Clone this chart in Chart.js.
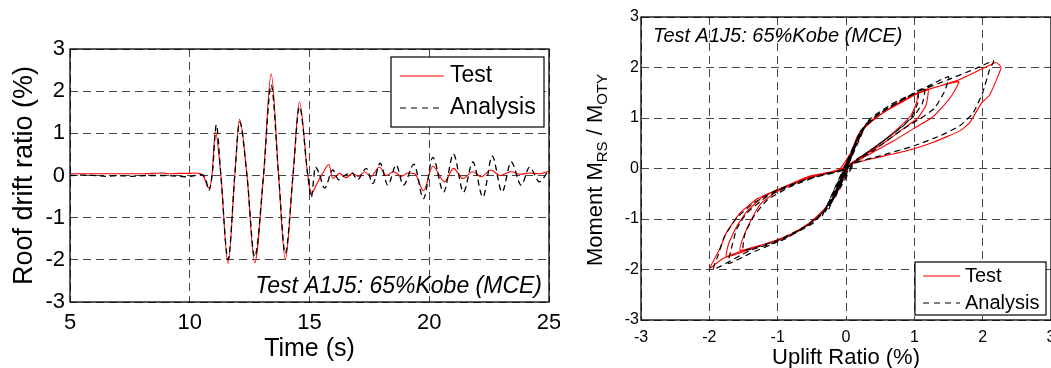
<!DOCTYPE html>
<html>
<head>
<meta charset="utf-8">
<script src="https://cdn.jsdelivr.net/npm/chart.js@4.4.1/dist/chart.umd.min.js"></script>
<style>
  html, body { margin: 0; padding: 0; background: #fff; }
  #wrap { position: relative; width: 1051px; height: 368px; overflow: hidden; }
  canvas { position: absolute; top: 0; }
  #drift { left: 0; }
  #uplift { left: 560px; }
</style>
</head>
<body>
<div id="wrap">
  <canvas id="drift" width="560" height="368"></canvas>
  <canvas id="uplift" width="491" height="368"></canvas>
</div>
<script>
// ---- roof drift time history (left) ----
const testTime = [5.0, 6.0, 7.0, 8.0, 8.9, 9.1, 9.6, 10.0, 10.2, 10.45, 10.6, 10.8, 10.93, 11.07, 11.3, 11.6, 11.88,
  12.08, 12.39, 12.71, 13.08, 13.4, 13.71, 13.99, 14.31, 14.58, 14.93, 15.08, 15.3, 15.55, 15.81, 15.97, 16.25,
  16.53, 16.8, 17.05, 17.3, 17.55, 17.92, 18.2, 18.5, 18.85, 19.1, 19.4, 19.76, 20.15, 20.64, 21.01, 21.4, 21.82,
  22.17, 22.58, 22.95, 23.42, 23.8, 24.2, 24.6, 25.0];
const testDrift = [0.04, 0.04, 0.04, 0.04, 0.06, 0.04, 0.05, 0.05, 0.06, 0.04, -0.05, -0.3, 0.0, 1.04, 0.0, -2.09, 0.0,
  1.33, 0.0, -2.07, 0.0, 2.41, 0.0, -1.99, 0.0, 1.75, 0.0, -0.43, -0.2, 0.05, 0.26, -0.07, 0.05,
  -0.05, 0.05, -0.02, 0.09, -0.03, 0.2, 0.0, 0.09, -0.02, 0.06, 0.04, -0.36, 0.22, -0.15, 0.17, -0.07, 0.09,
  -0.03, 0.13, 0.0, 0.09, 0.03, 0.06, 0.04, 0.1];

const analysisTime = [5.0, 5.8, 6.5, 7.0, 7.6, 8.2, 9.0, 9.6, 9.9, 10.2, 10.5, 10.65, 10.8, 10.95, 11.11, 11.3, 11.6,
  11.88, 12.08, 12.39, 12.71, 13.08, 13.4, 13.71, 13.99, 14.31, 14.58, 14.93, 15.07, 15.25, 15.4, 15.63, 15.97,
  16.22, 16.45, 16.78, 17.0, 17.37, 17.64, 17.95, 18.27, 18.62, 18.92, 19.36, 19.76, 20.15, 20.6, 21.01, 21.43,
  21.82, 22.24, 22.63, 23.04, 23.42, 23.84, 24.19, 24.6, 24.95];
const analysisDrift = [0.0, 0.01, -0.02, 0.0, -0.02, 0.0, 0.0, -0.02, -0.03, 0.0, 0.02, -0.05, -0.35, 0.1, 1.2, 0.0, -2.0,
  0.0, 1.27, 0.0, -1.93, 0.0, 2.15, 0.0, -1.85, 0.0, 1.63, 0.0, -0.52, 0.2, 0.05, -0.3, 0.13,
  -0.1, 0.0, 0.06, -0.1, 0.17, -0.19, 0.29, -0.23, 0.25, -0.23, 0.27, -0.55, 0.43, -0.39, 0.51, -0.39,
  0.32, -0.51, 0.46, -0.39, 0.32, -0.23, 0.2, -0.15, 0.09];

// ---- moment vs uplift hysteresis (right) ----
const testUplift = [0, 0.05, -0.05, 0.08, -0.1, 0.12, 0,
  0.16, 0.3, 0.5, 0.75, 1.05, 1.03, 0.95, 0.75, 0.5, 0.25, 0.05,
  -0.1, -0.3, -0.55, -0.9, -1.25, -1.55, -1.5, -1.4, -1.25, -1.0, -0.5, -0.05,
  0.1, 0.2, 0.45, 0.8, 1.2, 1.17, 1.05, 0.85, 0.6, 0.3, 0.05,
  -0.12, -0.35, -0.6, -1.0, -1.45, -1.8, -1.99, -1.85, -1.75, -1.55, -1.3, -1.16, -0.8, -0.53, -0.1,
  0.1, 0.25, 0.5, 0.85, 1.2, 1.62, 2.06, 2.2, 2.27, 2.2, 2.1, 1.99, 1.81, 1.67, 1.28, 0.89, 0.4, 0.11, 0,
  -0.15, -0.4, -0.8, -1.3, -1.75, -1.72, -1.6, -1.45, -1.2, -0.6, -0.05,
  0.12, 0.3, 0.7, 1.1, 1.65, 1.55, 1.4, 1.25, 1.0, 0.7, 0.3, 0.05,
  -0.2, -0.1, 0.15, -0.15, 0.1, -0.08, 0.05, 0];
const testMoment = [0.02, 0.2, -0.15, 0.3, -0.35, 0.45, 0.05,
  0.62, 0.88, 1.07, 1.28, 1.5, 1.3, 1.05, 0.78, 0.5, 0.25, 0.08,
  -0.38, -0.8, -1.12, -1.38, -1.52, -1.62, -1.35, -1.05, -0.7, -0.45, -0.17, -0.02,
  0.35, 0.7, 1.02, 1.3, 1.58, 1.25, 1.0, 0.8, 0.55, 0.28, 0.05,
  -0.45, -0.85, -1.15, -1.42, -1.6, -1.78, -1.97, -1.6, -1.27, -0.88, -0.6, -0.51, -0.3, -0.15, -0.02,
  0.38, 0.78, 1.06, 1.36, 1.56, 1.74, 2.02, 2.1, 2.0, 1.75, 1.45, 1.31, 0.91, 0.75, 0.52, 0.35, 0.2, 0.1, 0,
  -0.5, -0.95, -1.3, -1.55, -1.75, -1.5, -1.15, -0.85, -0.55, -0.2, 0.0,
  0.45, 0.85, 1.25, 1.52, 1.72, 1.45, 1.2, 1.0, 0.8, 0.55, 0.25, 0.05,
  -0.65, -0.3, 0.5, -0.55, 0.35, -0.3, 0.15, 0.03];

const analysisUplift = [0, 0.1, -0.12, 0.15, -0.15, 0.05,
  0.2, 0.4, 0.7, 1.05, 1.05, 0.95, 0.7, 0.4, 0.1,
  -0.15, -0.35, -0.6, -1.0, -1.5, -1.48, -1.35, -1.15, -0.8, -0.3, 0,
  0.15, 0.35, 0.75, 1.15, 1.12, 1.0, 0.8, 0.5, 0.15,
  -0.2, -0.45, -0.9, -1.4, -1.94, -1.88, -1.78, -1.6, -1.35, -1.0, -0.5, 0,
  0.15, 0.35, 0.7, 1.1, 1.5, 1.9, 2.16, 2.1, 2.0, 1.86, 1.67, 1.38, 1.0, 0.5, 0.1,
  -0.25, -0.5, -1.0, -1.4, -1.72, -1.68, -1.6, -1.45, -1.15, -0.6, 0,
  0.2, 0.5, 0.95, 1.5, 1.45, 1.3, 1.1, 0.8, 0.4, 0.05,
  -0.3, 0.3, -0.25, 0.25, -0.35, 0.2, -0.2, 0.1, 0];
const analysisMoment = [0, 0.35, -0.4, 0.5, -0.5, 0.15,
  0.72, 1.0, 1.27, 1.5, 1.3, 1.0, 0.7, 0.4, 0.12,
  -0.5, -0.88, -1.15, -1.42, -1.62, -1.3, -0.95, -0.62, -0.35, -0.1, 0,
  0.55, 0.95, 1.3, 1.6, 1.3, 1.05, 0.8, 0.5, 0.15,
  -0.65, -1.02, -1.4, -1.62, -2.0, -1.75, -1.35, -0.98, -0.68, -0.42, -0.18, 0,
  0.55, 0.98, 1.3, 1.55, 1.76, 1.98, 2.13, 1.95, 1.5, 1.1, 0.85, 0.65, 0.45, 0.25, 0.08,
  -0.75, -1.1, -1.45, -1.68, -1.88, -1.6, -1.2, -0.88, -0.55, -0.22, 0,
  0.7, 1.1, 1.45, 1.82, 1.55, 1.2, 1.0, 0.75, 0.35, 0.05,
  -0.85, 0.9, -0.8, 0.8, -0.95, 0.7, -0.6, 0.35, 0];

const axisTicks = [-3, -2, -1, 0, 1, 2, 3];
const timeTicks = [5, 10, 15, 20, 25];

const FONT = '"Liberation Sans", Arial, sans-serif';
const pts = (xs, ys) => xs.map((x, i) => ({ x: x, y: ys[i] }));

// frame, note text and legend box drawn over the plot
function overlay(cfg) {
  return {
    id: 'overlay',
    afterDraw(chart) {
      const { ctx, chartArea: a } = chart;
      ctx.save();
      ctx.setLineDash([]);
      ctx.strokeStyle = '#000';
      ctx.lineWidth = 1.3;
      ctx.strokeRect(a.left, a.top, a.right - a.left, a.bottom - a.top);

      // test label
      ctx.fillStyle = '#000';
      ctx.font = 'italic ' + cfg.note.size + 'px ' + FONT;
      ctx.textAlign = cfg.note.align;
      ctx.textBaseline = 'alphabetic';
      ctx.fillText('Test A1J5: 65%Kobe (MCE)', cfg.note.x, cfg.note.y);

      // legend
      const L = cfg.legend;
      ctx.fillStyle = '#fff';
      ctx.fillRect(L.x, L.y, L.w, L.h);
      ctx.lineWidth = 1.2;
      ctx.strokeStyle = '#000';
      ctx.strokeRect(L.x, L.y, L.w, L.h);
      const rows = [
        { text: 'Test', color: '#ff0000', dash: [], width: 1 },
        { text: 'Analysis', color: '#000', dash: [6, 5], width: 1.2 }
      ];
      ctx.font = L.size + 'px ' + FONT;
      ctx.textAlign = 'left';
      ctx.textBaseline = 'middle';
      rows.forEach((r, i) => {
        const yy = L.rowY[i];
        ctx.beginPath();
        ctx.setLineDash(r.dash);
        ctx.strokeStyle = r.color;
        ctx.lineWidth = r.width;
        ctx.moveTo(L.lineX0, yy);
        ctx.lineTo(L.lineX1, yy);
        ctx.stroke();
        ctx.setLineDash([]);
        ctx.fillStyle = '#000';
        ctx.fillText(r.text, L.textX, yy);
      });

      // y title with subscripts (right chart)
      if (cfg.yTitle) {
        const t = cfg.yTitle;
        ctx.translate(t.x, t.y);
        ctx.rotate(-Math.PI / 2);
        const big = t.size + 'px ' + FONT;
        const small = t.sub + 'px ' + FONT;
        const parts = [['Moment M', big, 0], ['RS', small, t.shift], [' / M', big, 0], ['OTY', small, t.shift]];
        let total = 0;
        parts.forEach(p => { ctx.font = p[1]; total += ctx.measureText(p[0]).width; });
        let xx = -total / 2;
        ctx.textAlign = 'left';
        ctx.textBaseline = 'alphabetic';
        ctx.fillStyle = '#000';
        parts.forEach(p => {
          ctx.font = p[1];
          ctx.fillText(p[0], xx, t.base + p[2]);
          xx += ctx.measureText(p[0]).width;
        });
      }
      ctx.restore();
    }
  };
}

function lineSet(label, data, color, dash, width, order, smooth) {
  return {
    label: label,
    data: data,
    showLine: true,
    borderColor: color,
    backgroundColor: color,
    borderDash: dash,
    borderWidth: width,
    pointRadius: 0,
    fill: false,
    order: order,
    cubicInterpolationMode: smooth ? 'monotone' : 'default',
    tension: smooth ? 0 : 0.15
  };
}

// no extra room for half-overhanging end labels; the plot box is set by layout padding
const fixX = h => s => { s.height = h; s.paddingLeft = 0; s.paddingRight = 0; };
const fixY = w => s => { s.width = w; s.paddingTop = 0; s.paddingBottom = 0; };

const gridStyle = { color: 'rgba(0,0,0,0.72)', lineWidth: 1, drawTicks: false };

new Chart(document.getElementById('drift'), {
  type: 'scatter',
  data: {
    datasets: [
      lineSet('Test', pts(testTime, testDrift), '#ff0000', [], 1.1, 2, true),
      lineSet('Analysis', pts(analysisTime, analysisDrift), '#000', [6, 4], 1.3, 1, true)
    ]
  },
  options: {
    responsive: false,
    animation: false,
    layout: { padding: { top: 49, right: 11, left: 0, bottom: 0 } },
    plugins: { legend: { display: false }, tooltip: { enabled: false } },
    scales: {
      x: {
        type: 'linear', min: 5, max: 25,
        afterFit: fixX(66),
        afterBuildTicks: s => { s.ticks = timeTicks.map(v => ({ value: v })); },
        ticks: { color: '#000', font: { family: FONT, size: 22 }, padding: 8, maxRotation: 0, autoSkip: false },
        grid: gridStyle,
        border: { display: false, dash: [8, 5] },
        title: { display: true, text: 'Time (s)', color: '#000', font: { family: FONT, size: 25 }, padding: { top: 0, bottom: 4 } }
      },
      y: {
        type: 'linear', min: -3, max: 3,
        afterFit: fixY(70),
        afterBuildTicks: s => { s.ticks = axisTicks.map(v => ({ value: v })); },
        ticks: { color: '#000', font: { family: FONT, size: 22 }, padding: 5, autoSkip: false },
        grid: gridStyle,
        border: { display: false, dash: [8, 5] },
        title: { display: true, text: 'Roof drift ratio (%)', color: '#000', font: { family: FONT, size: 27 }, padding: { top: 8, bottom: 0 } }
      }
    }
  },
  plugins: [overlay({
    note: { x: 542, y: 293, size: 23, align: 'right' },
    legend: { x: 391, y: 57, w: 153, h: 70, size: 23, rowY: [76, 108], lineX0: 400, lineX1: 444, textX: 450 }
  })]
});

new Chart(document.getElementById('uplift'), {
  type: 'scatter',
  data: {
    datasets: [
      lineSet('Test', pts(testUplift, testMoment), '#ff0000', [], 1.1, 2, false),
      lineSet('Analysis', pts(analysisUplift, analysisMoment), '#000', [6, 4], 1.2, 1, false)
    ]
  },
  options: {
    responsive: false,
    animation: false,
    layout: { padding: { top: 17, right: 0, left: 0, bottom: 0 } },
    plugins: { legend: { display: false }, tooltip: { enabled: false } },
    scales: {
      x: {
        type: 'linear', min: -3, max: 3,
        afterFit: fixX(48),
        afterBuildTicks: s => { s.ticks = axisTicks.map(v => ({ value: v })); },
        ticks: { color: '#000', font: { family: FONT, size: 16 }, padding: 8, maxRotation: 0, autoSkip: false },
        grid: gridStyle,
        border: { display: false, dash: [8, 5] },
        title: { display: true, text: 'Uplift Ratio (%)', color: '#000', font: { family: FONT, size: 22 }, padding: { top: 0, bottom: -3 } }
      },
      y: {
        type: 'linear', min: -3, max: 3,
        afterFit: fixY(81),
        afterBuildTicks: s => { s.ticks = axisTicks.map(v => ({ value: v })); },
        ticks: { color: '#000', font: { family: FONT, size: 16 }, padding: 2, autoSkip: false },
        grid: gridStyle,
        border: { display: false, dash: [8, 5] }
      }
    }
  },
  plugins: [overlay({
    note: { x: 93, y: 41.5, size: 20, align: 'left' },
    legend: { x: 355, y: 262, w: 131, h: 53, size: 20, rowY: [276, 303], lineX0: 363, lineX1: 400, textX: 405 },
    yTitle: { x: 35, y: 170, size: 22, sub: 15, shift: 5, base: 7 }
  })]
});
</script>
</body>
</html>
